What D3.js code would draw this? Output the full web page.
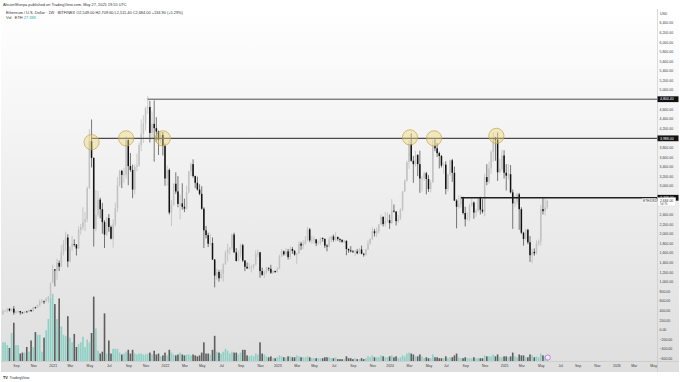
<!DOCTYPE html>
<html><head><meta charset="utf-8">
<script src="https://cdn.jsdelivr.net/npm/d3@7"></script>
<style>
html,body{margin:0;padding:0;background:#fff;}
svg{display:block;font-family:"Liberation Sans",Arial,sans-serif;}
</style></head><body>
<svg id="c" width="680" height="382"></svg>
<script>
// ---- DATA (ETH/USD weekly, Bitfinex) ----
const firstWeek = "2020-07-27";
const opens = [
321,387,395,433,396,434,353,367,385,356,346,374,367,406,383,462,460,511,574,588,585,640,685,
975,1255,1230,1390,1312,1615,1780,1920,1420,1725,1780,1775,1690,2080,2135,2240,2305,2950,3930,3580,2100,2390,2710,2510,2240,1980,2325,2140,1895,2190,2530,3010,3310,3225,3230,3950,3410,3330,2920,3390,3420,3850,4080,4300,4620,4640,4100,4290,4200,4130,3960,4060,
3830,3150,3330,2440,2600,3040,2880,2620,2630,2560,2520,2860,3300,3450,3200,3060,2920,2830,2520,2070,1970,1790,1805,1460,1125,1200,1070,1160,1360,1600,1680,1700,1980,1610,1430,1580,1760,1440,1310,1275,1290,1310,1360,1570,1610,1220,1140,1200,1280,1265,1185,1220,
1200,1265,1530,1630,1570,1630,1510,1680,1640,1565,1590,1790,1750,1795,1860,2090,1860,1870,1880,1800,1810,1910,1890,1750,1730,1880,1940,1870,1930,1890,1870,1830,1850,1680,1650,1630,1620,1630,1590,1670,1580,1560,1670,1790,1890,2050,2010,2050,2190,2350,2200,2265,
2280,2220,2480,2460,2260,2300,2500,2880,3110,3490,3870,3520,3450,3640,3450,3150,3160,3260,3140,2930,3070,3830,3780,3680,3620,3420,3440,2930,3240,3530,3270,2690,2560,2610,2750,2430,2300,2320,2580,2650,2440,2470,2750,2500,2460,3180,3080,3360,3700,4000,3960,3280,3350,
3630,3270,3210,3240,2860,2630,2660,2820,2510,2020,1890,2080,1820,1550,1620,1590,1790,1840,2510,2470,2549];
const highs = [
415,400,446,445,440,488,395,395,385,370,380,390,420,416,470,475,520,622,636,605,670,700,980,
1350,1260,1475,1440,1760,1870,2040,1990,1680,1950,1880,1780,2150,2200,2550,2450,2980,4180,4380,3590,2910,2890,2750,2640,2280,2350,2410,2170,2300,2650,3180,3330,3330,3375,4030,3970,3680,3440,3450,3670,3900,4380,4470,4650,4870,4770,4550,4780,4430,4150,4130,4120,
3880,3420,3360,2700,3050,3280,3200,2820,3050,2730,3000,3310,3480,3550,3210,3190,3030,2990,2550,2160,2020,2000,1920,1470,1270,1240,1250,1380,1650,1790,1720,2000,2020,1700,1650,1790,1790,1450,1400,1390,1340,1370,1650,1670,1620,1290,1230,1310,1300,1350,1240,1230,
1300,1560,1680,1650,1700,1680,1740,1720,1660,1600,1840,1830,1860,1950,2140,2120,1960,1940,1890,1850,1920,1920,1900,1780,1930,1960,1980,2030,1940,1900,1880,1870,1860,1690,1740,1660,1660,1680,1700,1750,1600,1680,1860,1900,2130,2100,2130,2200,2400,2360,2450,2440,
2400,2720,2610,2470,2390,2530,2890,3130,3520,3940,4090,3620,3730,3660,3730,3200,3290,3290,3220,3120,3950,3980,3890,3710,3640,3490,3510,3250,3540,3560,3400,2720,2800,2800,2770,2560,2450,2620,2730,2670,2520,2760,2770,2720,3250,3450,3500,3740,4110,4020,4110,3560,3750,
3740,3450,3450,3430,2920,2790,2850,2850,2550,2040,2100,2100,1950,1690,1690,1860,1880,2600,2740,2730,2709.6];
const lows = [
305,370,355,375,375,308,330,355,310,333,337,365,365,370,375,437,450,480,550,532,580,560,680,
965,900,1040,1220,1300,1545,1640,1300,1405,1640,1730,1545,1690,1980,2080,2050,2240,2930,3380,1730,2050,2350,2320,2000,1700,1950,2040,1880,1710,2150,2450,2980,2950,3060,3150,3010,3290,2740,2820,3300,3400,3720,3890,4150,4500,3900,3970,3500,3920,3640,3880,3630,
3000,3000,2400,2160,2580,2830,2550,2300,2500,2450,2500,2840,3200,3170,2950,2900,2800,2500,1700,1900,1720,1750,1450,880,1040,1000,1060,1000,1350,1420,1560,1660,1600,1420,1420,1500,1410,1220,1265,1260,1190,1260,1340,1510,1080,1120,1075,1160,1220,1160,1160,1180,
1190,1260,1510,1540,1540,1460,1460,1580,1540,1370,1580,1660,1680,1770,1840,1820,1790,1790,1740,1770,1770,1830,1700,1630,1720,1820,1830,1840,1850,1820,1810,1800,1550,1600,1610,1600,1530,1570,1580,1570,1520,1540,1660,1770,1870,1940,1930,2000,2180,2150,2150,2230,
2100,2200,2440,2170,2230,2290,2470,2870,3080,3350,3500,3060,3400,3200,2850,2880,3100,2820,2870,2860,3060,3720,3600,3360,3380,3250,2820,2880,3200,3080,2680,2110,2520,2540,2400,2150,2280,2260,2560,2310,2350,2460,2400,2420,2360,3010,3040,3250,3500,3520,3100,3260,3310,
3150,2900,3130,2840,2100,2550,2600,2080,1990,1750,1860,1780,1410,1385,1540,1570,1750,1750,2400,2380,2511.4];
const closes = [
387,395,433,396,434,353,367,385,356,346,374,367,406,383,462,460,511,574,588,585,640,685,975,
1255,1230,1390,1312,1615,1780,1920,1420,1725,1780,1775,1690,2080,2135,2240,2305,2950,3930,3580,2100,2390,2710,2510,2240,1980,2325,2140,1895,2190,2530,3010,3310,3225,3230,3950,3410,3330,2920,3390,3420,3850,4080,4300,4620,4640,4100,4290,4200,4130,3960,4060,3830,
3150,3330,2440,2600,3040,2880,2620,2630,2560,2520,2860,3300,3450,3200,3060,2920,2830,2520,2070,1970,1790,1805,1460,1125,1200,1070,1160,1360,1600,1680,1700,1980,1610,1430,1580,1760,1440,1310,1275,1290,1310,1360,1570,1610,1220,1140,1200,1280,1265,1185,1220,1200,
1265,1530,1630,1570,1630,1510,1680,1640,1565,1590,1790,1750,1795,1860,2090,1860,1870,1880,1800,1810,1910,1890,1750,1730,1880,1940,1870,1930,1890,1870,1830,1850,1680,1650,1630,1620,1630,1590,1670,1580,1560,1670,1790,1890,2050,2010,2050,2190,2350,2200,2265,2280,
2220,2480,2460,2260,2300,2500,2880,3110,3490,3870,3520,3450,3640,3450,3150,3160,3260,3140,2930,3070,3830,3780,3680,3620,3420,3440,2930,3240,3530,3270,2690,2560,2610,2750,2430,2300,2320,2580,2650,2440,2470,2750,2500,2460,3180,3080,3360,3700,4000,3960,3280,3350,3630,
3270,3210,3240,2860,2630,2660,2820,2510,2020,1890,2080,1820,1550,1620,1590,1790,1840,2510,2470,2549,2684];
// weekly volume, thousands of ETH
const volumes = [
160,160,136,112,240,328,136,136,64,72,72,120,80,176,120,248,224,224,80,200,264,360,544,
576,488,360,536,296,224,216,384,200,160,232,120,144,160,208,120,184,160,240,552,280,88,64,80,408,64,176,64,104,104,104,
72,56,64,80,96,64,96,64,56,64,64,56,56,64,72,56,88,56,64,40,48,
72,48,96,72,56,48,56,72,56,48,56,56,48,56,48,40,48,72,160,64,64,56,96,216,80,72,64,80,104,88,64,80,72,72,56,72,96,96,48,40,48,40,64,56,160,64,56,40,32,40,24,24,
32,48,40,32,32,40,40,32,32,48,40,32,32,32,40,32,24,24,24,24,24,24,32,32,32,24,24,32,16,16,16,16,40,24,24,16,24,16,16,24,16,24,40,32,48,32,32,32,48,40,32,32,
40,48,32,40,24,32,48,40,64,72,64,56,40,40,56,40,24,32,24,24,56,32,32,24,24,24,40,24,32,32,48,64,32,24,24,32,24,24,24,32,24,24,24,24,48,40,40,40,56,40,56,32,32,
40,40,32,40,72,40,32,56,48,48,32,32,56,48,32,40,32,64,48,40,27.33];
// price axis tick labels
const priceTicks = [6400,6200,6000,5800,5600,5400,5200,5000,4600,4400,4200,3800,3600,3400,3200,3000,2400,2200,2000,1800,1600,1400,1200,1000,800,600,400,200,0,-200,-400,-600];
// time axis tick months
const tickMonths = ["2020-09","2020-11",
"2021-01","2021-03","2021-05","2021-07","2021-09","2021-11",
"2022-01","2022-03","2022-05","2022-07","2022-09","2022-11",
"2023-01","2023-03","2023-05","2023-07","2023-09","2023-11",
"2024-01","2024-03","2024-05","2024-07","2024-09","2024-11",
"2025-01","2025-03","2025-05","2025-07","2025-09","2025-11",
"2026-01","2026-03","2026-05"];
// drawn levels
const levelValues = [4804.40, 3988.00, 2748.00];
const levelStarts = ["2021-11-08", "2021-05-10", "2024-08-19"];
// highlighted touches
const touchDates = ["2021-05-10","2021-08-30","2021-12-27","2024-03-07","2024-05-24","2024-12-12"];
const touchLevels = [3908, 3988, 3988, 4008, 3988, 4040];
const lastPrice = 2684.00;

// ---- CHART ----
const W = 680, H = 382;
const plotL = 1, plotR = 657, plotT = 9, plotB = 361;
const svg = d3.select("#c");
const defs = svg.append("defs");
const grad = defs.append("linearGradient").attr("id","bg").attr("x1",0).attr("y1",0).attr("x2",0).attr("y2",1);
grad.append("stop").attr("offset","0%").attr("stop-color","#ffffff");
grad.append("stop").attr("offset","100%").attr("stop-color","#dedede");
defs.append("clipPath").attr("id","plot").append("rect")
  .attr("x",plotL).attr("y",plotT).attr("width",plotR-plotL).attr("height",plotB-plotT);

svg.append("rect").attr("width",W).attr("height",H).attr("fill","#fff");
svg.append("rect").attr("x",1).attr("y",plotT).attr("width",678).attr("height",372-plotT).attr("fill","url(#bg)");

const pd = d3.utcParse("%Y-%m-%d");
const weeks = d3.utcMonday.range(pd(firstWeek), d3.utcDay.offset(pd(firstWeek), opens.length*7));
const bars = weeks.map((d,i)=>({d, o:opens[i], h:highs[i], l:lows[i], c:closes[i], v:volumes[i]}));

const x = d3.scaleUtc().domain([pd("2020-07-27"), pd("2026-01-05")]).range([3.0, 616.4]);
const y = d3.scaleLinear().domain([-600, 6400]).range([358.3, 22.7]);
const yv = d3.scaleLinear().domain([0, 600]).range([plotB, plotB-70]);

const plot = svg.append("g").attr("clip-path","url(#plot)");

// volume
plot.append("g").selectAll("rect").data(bars).join("rect")
  .attr("x", b=>x(b.d)-0.8).attr("width",1.6)
  .attr("y", b=>yv(b.v)).attr("height", b=>plotB-yv(b.v))
  .attr("fill", b=>b.c>=b.o ? "#8dd0c6" : "#5d5d5d");

// wicks
plot.append("g").selectAll("line").data(bars).join("line")
  .attr("x1", b=>x(b.d)).attr("x2", b=>x(b.d))
  .attr("y1", b=>y(b.h)).attr("y2", b=>y(b.l))
  .attr("stroke", b=>b.c>=b.o ? "#a8a8a8" : "#111")
  .attr("stroke-width",0.55);
// bodies
plot.append("g").selectAll("rect").data(bars).join("rect")
  .attr("x", b=>x(b.d)-0.75).attr("width",1.5)
  .attr("y", b=>y(Math.max(b.o,b.c)))
  .attr("height", b=>Math.max(0.8, Math.abs(y(b.o)-y(b.c))))
  .attr("fill", b=>b.c>=b.o ? "#c2c2c2" : "#111");

// level lines
const lineStyles = [{c:"#3a3a3a",w:0.9},{c:"#4a4a4a",w:1.2},{c:"#1e1e1e",w:1.4}];
levelValues.forEach((v,i)=>{
  svg.append("line").attr("x1", x(pd(levelStarts[i]))).attr("x2", plotR)
    .attr("y1", y(v)).attr("y2", y(v))
    .attr("stroke", lineStyles[i].c).attr("stroke-width", lineStyles[i].w);
});
// touch circles
touchDates.forEach((d,i)=>{
  svg.append("circle").attr("cx", x(pd(d))).attr("cy", y(touchLevels[i])).attr("r",7.6)
    .attr("fill","rgba(238,214,120,0.42)").attr("stroke","#c2a446").attr("stroke-width",0.7);
});

// purple event marker
svg.append("circle").attr("cx", x(weeks[weeks.length-1])+0.5).attr("cy",357.5).attr("r",2.6)
  .attr("fill","#f3e6fa").attr("stroke","#b066d6").attr("stroke-width",0.7);

// separators
svg.append("line").attr("x1",plotR+0.5).attr("x2",plotR+0.5).attr("y1",plotT).attr("y2",372)
  .attr("stroke","#c4c4c4").attr("stroke-width",0.6);
svg.append("line").attr("x1",1).attr("x2",679).attr("y1",plotB+0.5).attr("y2",plotB+0.5)
  .attr("stroke","#c4c4c4").attr("stroke-width",0.6);

// price axis
const fmt = d3.format(",.2f");
const yAxis = d3.axisRight(y).tickValues(priceTicks).tickFormat(fmt).tickSize(0).tickPadding(2.5);
const ya = svg.append("g").attr("transform",`translate(${plotR},0)`).call(yAxis);
ya.select(".domain").remove();
ya.selectAll("text").attr("font-size",3.5).attr("fill","#3c3c3c").attr("font-family","Liberation Sans, Arial, sans-serif");
svg.append("text").attr("x",660).attr("y",15.2).attr("font-size",3.5).attr("fill","#3c3c3c").text("USD");

// highlighted level labels
levelValues.forEach(v=>{
  svg.append("rect").attr("x",plotR+0.5).attr("y",y(v)-2.9).attr("width",21).attr("height",5.8).attr("fill","#111");
  svg.append("text").attr("x",660).attr("y",y(v)+1.25).attr("font-size",3.5).attr("fill","#fff").text(fmt(v));
});
// last price label
const ly = y(lastPrice);
svg.append("rect").attr("x",plotR+0.8).attr("y",ly-3.2).attr("width",18).attr("height",8.4)
  .attr("fill","#fff").attr("stroke","#cfcfcf").attr("stroke-width",0.4);
svg.append("text").attr("x",660).attr("y",ly+0.9).attr("font-size",3.4).attr("fill","#333").text(fmt(lastPrice));
svg.append("text").attr("x",660).attr("y",ly+4.3).attr("font-size",3.0).attr("fill","#555").text("5d 7h");
svg.append("rect").attr("x",642).attr("y",ly-2.4).attr("width",14).attr("height",4.8).attr("fill","#f4f4f4");
svg.append("text").attr("x",643).attr("y",ly+1.1).attr("font-size",3.2).attr("fill","#444").text("ETH/USD");

// time axis
const tickDates = tickMonths.map(m=>d3.utcMonday.ceil(d3.utcParse("%Y-%m")(m)));
const xAxis = d3.axisBottom(x).tickValues(tickDates)
  .tickFormat(d=>{const m = d3.utcMonth.floor(d); return m.getUTCMonth()===0 ? d3.utcFormat("%Y")(m) : d3.utcFormat("%b")(m);})
  .tickSize(0).tickPadding(3.6);
const xa = svg.append("g").attr("transform",`translate(0,${plotB})`).call(xAxis);
xa.select(".domain").remove();
xa.selectAll("text").attr("font-size",3.5).attr("fill","#3c3c3c").attr("font-family","Liberation Sans, Arial, sans-serif");

// header
svg.append("text").attr("x",3).attr("y",6.2).attr("font-size",3.9).attr("fill","#333")
  .text("AltcoinSherpa published on TradingView.com, May 27, 2025 19:55 UTC");
const l1 = svg.append("text").attr("x",6).attr("y",14).attr("font-size",3.9).attr("fill","#333");
l1.append("tspan").text("Ethereum / U.S. Dollar · 1W · BITFINEX  ");
l1.append("tspan").text("O2,549.00 H2,709.60 L2,511.40 C2,684.00 +134.90 (+5.29%)");
const l2 = svg.append("text").attr("x",6).attr("y",19.4).attr("font-size",3.9).attr("fill","#333");
l2.append("tspan").text("Vol · ETH  ");
l2.append("tspan").attr("fill","#26a69a").text("27.33K");

// footer logo
svg.append("text").attr("x",3).attr("y",378.5).attr("font-size",3.8).attr("font-weight","bold").attr("fill","#222").text("TV");
svg.append("text").attr("x",9.5).attr("y",378.5).attr("font-size",3.6).attr("fill","#333").text("TradingView");
</script>
</body></html>
